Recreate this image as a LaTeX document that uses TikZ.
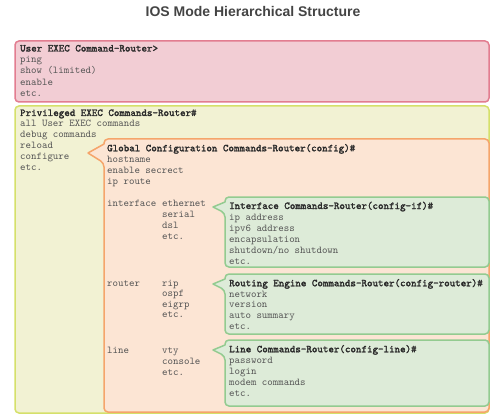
\documentclass[tikz,border=0pt]{standalone}
\usepackage{fontspec}
\setmainfont{Liberation Sans}
\newfontfamily\hdrfont{Latin Modern Mono}[FakeBold=2]
\definecolor{pinkf}{HTML}{F2CDD4}
\definecolor{pinkb}{HTML}{E27D90}
\definecolor{yelf}{HTML}{F2F2D3}
\definecolor{yelb}{HTML}{D5E06A}
\definecolor{oraf}{HTML}{FCE5D4}
\definecolor{orab}{HTML}{F5A56B}
\definecolor{grnf}{HTML}{DDEBD8}
\definecolor{grnb}{HTML}{93CB90}
\definecolor{hdrc}{HTML}{2A2A2A}
\definecolor{txtc}{HTML}{555555}
\definecolor{titlec}{HTML}{444444}
\begin{document}
\begin{tikzpicture}[x=1pt,y=-1pt,
  box/.style={line width=1.5pt, line join=round},
  hdr/.style={font=\hdrfont\fontsize{10.5}{12}\selectfont, text=hdrc, anchor=base west, inner sep=0pt},
  txt/.style={font=\ttfamily\fontsize{10.4}{12}\selectfont, text=txtc, anchor=base west, inner sep=0pt}]
\useasboundingbox (0,0) rectangle (504,420);

\node[font=\bfseries\fontsize{14}{16}\selectfont, text=titlec] (title) at (253,11) {IOS Mode Hierarchical Structure};

% boxes
\draw[box, rounded corners=4pt, draw=pinkb, fill=pinkf] (15,41) rectangle (489,102);
\draw[box, rounded corners=4pt, draw=yelb, fill=yelf] (15,106) rectangle (489,413);
\draw[box, draw=orab, fill=oraf] (88,153) -- (104,144) [rounded corners=4pt] -- (104,139) -- (489,139) -- (489,412) -- (104,412) -- (104,163) [sharp corners] -- cycle;
\draw[box, draw=grnb, fill=grnf] (213,207) -- (225,202) [rounded corners=4pt] -- (225,197) -- (489,197) -- (489,267) -- (225,267) -- (225,213) [sharp corners] -- cycle;
\draw[box, draw=grnb, fill=grnf] (213,284) -- (225,279) [rounded corners=4pt] -- (225,274) -- (489,274) -- (489,334) -- (225,334) -- (225,290) [sharp corners] -- cycle;
\draw[box, draw=grnb, fill=grnf] (213,350) -- (225,345) [rounded corners=4pt] -- (225,340) -- (489,340) -- (489,406) -- (225,406) -- (225,356) [sharp corners] -- cycle;

% user exec
\node[hdr] (uh) at (20,51.5) {User EXEC Command-Router>};
\foreach [count=\i] \t in {ping, show (limited), enable, etc.}
  \node[txt] (u\i) at (20,51.5+11.2*\i) {\t};

% privileged exec
\node[hdr] (ph) at (20,116) {Privileged EXEC Commands-Router\#};
\foreach [count=\i] \t in {all User EXEC commands, debug commands, reload, configure, etc.}
  \node[txt] (p\i) at (20,116+11*\i) {\t};

% global config
\node[hdr] (gh) at (107,151.3) {Global Configuration Commands-Router(config)\#};
\foreach [count=\i] \t in {hostname, enable secrect, ip route}
  \node[txt] (g\i) at (107,151.3+11.2*\i) {\t};
\node[txt] (gi) at (107,206) {interface};
\foreach [count=\i] \t in {ethernet, serial, dsl, etc.}
  \node[txt] (gie\i) at (162,195+11*\i) {\t};
\node[txt] (gr) at (107,286) {router};
\foreach [count=\i] \t in {rip, ospf, eigrp, etc.}
  \node[txt] (gre\i) at (162,275.5+10.5*\i) {\t};
\node[txt] (gl) at (107,353) {line};
\foreach [count=\i] \t in {vty, console, etc.}
  \node[txt] (gle\i) at (162,342+11*\i) {\t};

% interface
\node[hdr] (ih) at (229,209) {Interface Commands-Router(config-if)\#};
\foreach [count=\i] \t in {ip address, ipv6 address, encapsulation, shutdown/no shutdown, etc.}
  \node[txt] (i\i) at (229,209+11*\i) {\t};

% routing
\node[hdr] (rh) at (229,286.3) {Routing Engine Commands-Router(config-router)\#};
\foreach [count=\i] \t in {network, version, auto summary, etc.}
  \node[txt] (r\i) at (229,286.3+10.7*\i) {\t};

% line
\node[hdr] (lh) at (229,352.3) {Line Commands-Router(config-line)\#};
\foreach [count=\i] \t in {password, login, modem commands, etc.}
  \node[txt] (l\i) at (229,352.3+11*\i) {\t};
\end{tikzpicture}
\end{document}
